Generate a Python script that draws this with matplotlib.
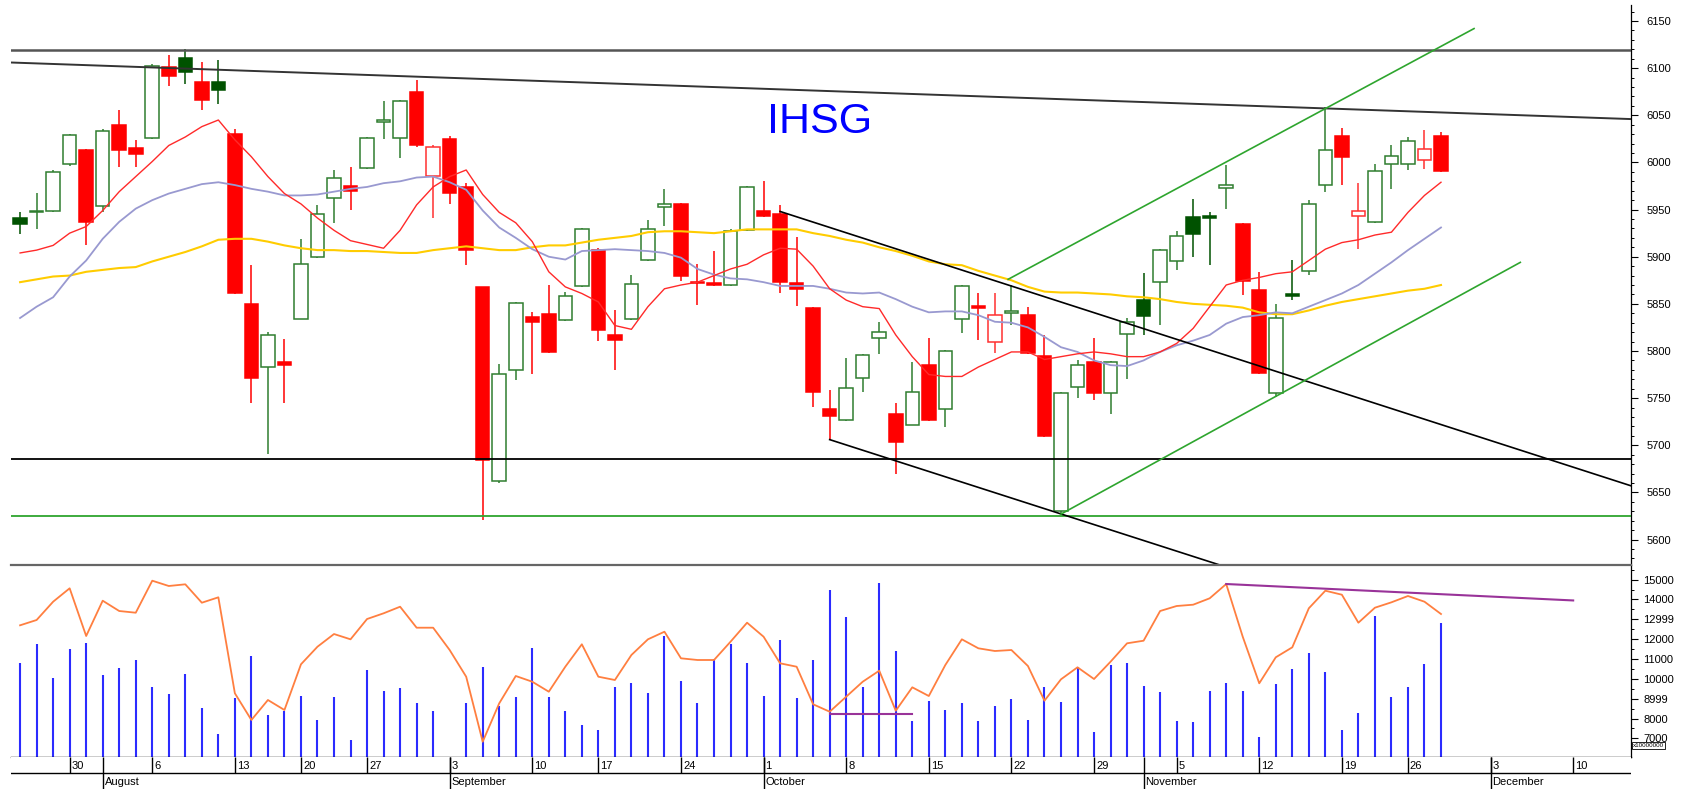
import numpy as np
import pandas as pd
import matplotlib
matplotlib.use('Agg')
import matplotlib.pyplot as plt
from matplotlib.ticker import MultipleLocator

plt.rcParams['font.family'] = ['Liberation Sans', 'DejaVu Sans']

# trading days (IDX holidays removed) plus empty slots to the right
holidays = ['2018-08-17', '2018-08-22', '2018-09-11', '2018-11-20']
days = pd.bdate_range('2018-07-25', '2018-11-28')
days = days[~days.isin(pd.to_datetime(holidays))]
blank_days = pd.bdate_range('2018-11-29', '2018-12-14')
all_days = days.append(blank_days)

prev_close = 5920
opens = [5941, 5947, 5948, 5998, 6013, 5954, 6040, 6015, 6026, 6101,
         6111, 6085, 6085, 6030, 5850, 5783, 5788, 5834, 5900, 5962,
         5975, 5994, 6043, 6026, 6075, 5986, 6025, 5974, 5868, 5662,
         5780, 5836, 5839, 5833, 5869, 5907, 5817, 5834, 5896, 5953,
         5956, 5873, 5872, 5870, 5928, 5949, 5945, 5872, 5846, 5738,
         5727, 5771, 5814, 5733, 5722, 5785, 5738, 5834, 5848, 5810,
         5840, 5838, 5795, 5630, 5762, 5788, 5755, 5818, 5854, 5873,
         5895, 5942, 5943, 5973, 5935, 5865, 5755, 5860, 5885, 5976,
         6028, 5943, 5937, 5998, 5998, 6003, 6028]
highs = [5947, 5968, 5992, 6030, 6014, 6035, 6056, 6024, 6104, 6114,
         6120, 6107, 6109, 6036, 5891, 5820, 5813, 5919, 5955, 5992,
         5995, 6027, 6065, 6066, 6087, 6019, 6028, 5978, 5868, 5786,
         5852, 5841, 5870, 5863, 5930, 5909, 5843, 5881, 5939, 5972,
         5957, 5892, 5906, 5929, 5975, 5980, 5955, 5921, 5847, 5759,
         5793, 5797, 5831, 5745, 5788, 5814, 5801, 5870, 5861, 5861,
         5870, 5847, 5817, 5756, 5790, 5814, 5789, 5835, 5883, 5908,
         5927, 5961, 5947, 5997, 5936, 5884, 5850, 5896, 5960, 6059,
         6037, 5978, 5998, 6019, 6027, 6034, 6032]
lows = [5924, 5929, 5947, 5996, 5912, 5947, 5995, 5995, 6025, 6081,
        6083, 6056, 6062, 5860, 5745, 5691, 5745, 5834, 5899, 5936,
        5950, 5993, 6025, 6005, 6016, 5941, 5956, 5891, 5621, 5660,
        5769, 5776, 5798, 5832, 5868, 5811, 5780, 5833, 5895, 5933,
        5874, 5849, 5869, 5869, 5927, 5942, 5861, 5848, 5741, 5706,
        5726, 5757, 5797, 5670, 5721, 5726, 5719, 5819, 5812, 5798,
        5828, 5797, 5709, 5627, 5750, 5748, 5733, 5770, 5817, 5828,
        5886, 5900, 5891, 5951, 5859, 5776, 5751, 5854, 5881, 5969,
        5976, 5908, 5936, 5972, 5992, 5993, 5990]
closes = [5935, 5949, 5990, 6029, 5937, 6033, 6013, 6009, 6102, 6092,
          6096, 6066, 6077, 5862, 5771, 5817, 5785, 5892, 5945, 5984,
          5970, 6026, 6045, 6065, 6019, 6016, 5968, 5907, 5684, 5776,
          5851, 5831, 5799, 5858, 5929, 5822, 5812, 5871, 5929, 5956,
          5880, 5872, 5870, 5927, 5974, 5943, 5873, 5866, 5757, 5731,
          5761, 5796, 5820, 5703, 5756, 5727, 5800, 5869, 5846, 5838,
          5842, 5798, 5710, 5755, 5785, 5755, 5788, 5831, 5837, 5907,
          5922, 5924, 5941, 5976, 5874, 5777, 5835, 5858, 5956, 6013,
          6006, 5948, 5991, 6007, 6023, 6014, 5991]

ma_fast = [5904, 5907, 5912, 5925, 5932, 5949, 5969, 5985, 6001, 6018,
           6027, 6038, 6045, 6024, 6006, 5985, 5967, 5956, 5941, 5928,
           5917, 5913, 5909, 5928, 5955, 5974, 5985, 5992, 5966, 5947,
           5936, 5916, 5884, 5868, 5861, 5852, 5827, 5823, 5847, 5866,
           5870, 5873, 5880, 5887, 5892, 5902, 5909, 5908, 5890, 5866,
           5854, 5847, 5845, 5817, 5794, 5775, 5773, 5773, 5783, 5791,
           5799, 5799, 5791, 5794, 5797, 5799, 5797, 5794, 5794, 5799,
           5808, 5824, 5847, 5870, 5875, 5878, 5882, 5884, 5896, 5908,
           5915, 5918, 5923, 5926, 5947, 5965, 5979]
ma_mid = [5835, 5847, 5857, 5879, 5896, 5919, 5937, 5951, 5960, 5967,
          5972, 5977, 5979, 5976, 5972, 5969, 5965, 5965, 5966, 5969,
          5972, 5974, 5978, 5980, 5984, 5985, 5979, 5971, 5949, 5931,
          5920, 5908, 5900, 5897, 5906, 5907, 5908, 5907, 5906, 5904,
          5899, 5887, 5881, 5877, 5876, 5873, 5869, 5869, 5869, 5866,
          5862, 5861, 5862, 5855, 5847, 5841, 5842, 5842, 5838, 5831,
          5830, 5825, 5815, 5804, 5799, 5790, 5785, 5784, 5790, 5799,
          5806, 5811, 5817, 5829, 5836, 5838, 5841, 5840, 5847, 5854,
          5861, 5870, 5882, 5894, 5907, 5919, 5931]
ma_slow = [5873, 5876, 5879, 5880, 5884, 5886, 5888, 5889, 5895, 5900,
           5905, 5911, 5918, 5919, 5919, 5916, 5912, 5909, 5907, 5907,
           5906, 5906, 5905, 5904, 5904, 5907, 5909, 5911, 5909, 5907,
           5907, 5910, 5912, 5912, 5915, 5918, 5920, 5922, 5926, 5927,
           5927, 5926, 5925, 5927, 5929, 5929, 5929, 5929, 5925, 5922,
           5918, 5915, 5910, 5906, 5901, 5895, 5892, 5891, 5885, 5880,
           5875, 5868, 5863, 5862, 5862, 5861, 5860, 5858, 5857, 5855,
           5852, 5850, 5849, 5848, 5846, 5841, 5839, 5839, 5843, 5848,
           5852, 5855, 5858, 5861, 5864, 5866, 5870]

volume = [10814, 11756, 10043, 11504, 11822, 10179, 10547, 10950, 9589, 9222,
          10229, 8516, 7237, 9035, 11136, 8194, 8395, 9151, 7927, 9086,
          6919, 10431, 9403, 9539, 8768, 8380, np.nan, 8768, 10612, 8632,
          9086, 11569, 9086, 8380, 7675, 7423, 9589, 9791, 9272, 12144,
          9907, 8768, 11000, 11756, 10798, 9151, 11957, 9020, 10950, 14461,
          13101, 9589, 14829, 11388, 7861, 8884, 8446, 8768, 7861, 8632,
          8970, 7927, 9589, 8834, 10582, 7307, 10683, 10798, 9655, 9338,
          7861, 7811, 9403, 9791, 9403, 7055, 9725, 10496, 11317, 10360,
          7423, 8264, 13166, 9086, 9589, 10748, 12798]
oscillator = [12698, 12965, 13887, 14562, 12159, 13937, 13418, 13332, 14945, 14678,
              14763, 13836, 14108, 9272, 7927, 8935, 8431, 10733, 11620, 12259,
              11992, 13015, 13302, 13635, 12577, 12577, 11453, 10108, 6834, 8768,
              10144, 9856, 9353, 10612, 11741, 10108, 9942, 11202, 11992, 12375,
              11035, 10950, 10950, 11872, 12829, 12123, 10783, 10612, 8718, 8345,
              9101, 9856, 10411, 8395, 9574, 9136, 10698, 11992, 11539, 11403,
              11453, 10647, 8899, 9977, 10582, 9992, 10864, 11791, 11922, 13418,
              13670, 13736, 14058, 14778, 12123, 9776, 11086, 11589, 13554, 14441,
              14239, 12829, 13584, 13856, 14174, 13887, 13267]

# drawn levels and trend lines (slot index, value)
top_level = 6119
support_black = 5685
support_green = 5625
resist_x, resist_y = [-0.55, 97.5], [6106, 6046]
down_hi_x, down_hi_y = [46, 97.5], [5948, 5657]
down_lo_x, down_lo_y = [49, 73.5], [5706, 5568]
up_lo_x, up_lo_y = [63, 90.8], [5627, 5894]
up_hi_x, up_hi_y = [59.8, 88], [5876, 6142]
osc_trend_x, osc_trend_y = [73, 94], [14778, 13950]
osc_flat_x, osc_flat_y = [49, 54], [8230, 8230]

vol_ticks = [7000, 8000, 8999, 10000, 11000, 12000, 12999, 14000, 15000]
price_ticks = np.arange(5600, 6151, 50)

# ---------------------------------------------------------------
W, H = 1683, 789
fig = plt.figure(figsize=(W / 100, H / 100), dpi=100)
left, width = 11 / W, (1631 - 11) / W
ax = fig.add_axes([left, 1 - 565 / H, width, 560 / H])
axv = fig.add_axes([left, 1 - 757 / H, width, 192 / H])
axd = fig.add_axes([left, 0, width, 32 / H])

xlim = (-0.55, 97.5)
for a in (ax, axv, axd):
    a.set_xlim(*xlim)
    a.tick_params(axis='x', bottom=False, labelbottom=False)

o, h, l, c = map(np.array, (opens, highs, lows, closes))
x = np.arange(len(c))
prev = np.r_[prev_close, c[:-1]]
up_day = c >= prev
filled = c < o
edge = np.where(up_day, np.where(filled, '#005200', '#2f7d2f'),
                np.where(filled, '#ff0000', '#ff3030'))
face = np.where(filled, edge, '#ffffff')

ax.vlines(x, l, h, colors=edge, lw=1.1, zorder=3)
ax.bar(x, np.abs(c - o), bottom=np.minimum(o, c), width=0.82,
       color=face, edgecolor=edge, linewidth=1.1, zorder=4)

ax.plot(x, ma_slow, color='#ffcc00', lw=1.5, zorder=5)
ax.plot(x, ma_mid, color='#9999d0', lw=1.3, zorder=5)
ax.plot(x, ma_fast, color='#ff2a2a', lw=1.0, zorder=5)

ax.axhline(top_level, color='#555555', lw=1.8, zorder=6)
ax.axhline(support_black, color='black', lw=1.3, zorder=6)
ax.axhline(support_green, color='#2ea52e', lw=1.3, zorder=6)
ax.plot(resist_x, resist_y, color='#333333', lw=1.4, zorder=6)
ax.plot(down_hi_x, down_hi_y, color='black', lw=1.2, zorder=6)
ax.plot(down_lo_x, down_lo_y, color='black', lw=1.2, zorder=6)
ax.plot(up_lo_x, up_lo_y, color='#2ea52e', lw=1.2, zorder=6)
ax.plot(up_hi_x, up_hi_y, color='#2ea52e', lw=1.2, zorder=6)

ax.text(48.4, 6031, 'IHSG', color='#0000ff', fontsize=31,
        ha='center', va='baseline')

ax.set_ylim(5573, 6167)
ax.yaxis.tick_right()
ax.set_yticks(price_ticks)
ax.yaxis.set_minor_locator(MultipleLocator(10))
ax.tick_params(axis='y', which='major', length=4.8, width=0.8, pad=6.5,
               labelsize=8)
ax.tick_params(axis='y', which='minor', length=2, width=0.7)
for s in ('top', 'left', 'bottom'):
    ax.spines[s].set_visible(False)
ax.spines['right'].set_linewidth(0.9)

# lower pane: volume bars and oscillator
vol_lim = (6063, 15736)
axv.vlines(x, vol_lim[0], volume, colors='#2b2bff', lw=1.5, zorder=2)
axv.plot(x, oscillator, color='#ff7f40', lw=1.3, zorder=3)
axv.plot(osc_trend_x, osc_trend_y, color='#993399', lw=1.5, zorder=4)
axv.plot(osc_flat_x, osc_flat_y, color='#993399', lw=1.5, zorder=4)
axv.set_ylim(*vol_lim)
axv.yaxis.tick_right()
axv.set_yticks(vol_ticks)
axv.set_yticklabels([str(v) for v in vol_ticks])
axv.yaxis.set_minor_locator(MultipleLocator(500))
axv.tick_params(axis='y', which='major', length=4.8, width=0.8, pad=4,
                labelsize=8)
axv.tick_params(axis='y', which='minor', length=2, width=0.7)
axv.spines['left'].set_visible(False)
axv.spines['top'].set_color('#666666')
axv.spines['top'].set_linewidth(1.6)
axv.spines['bottom'].set_linewidth(1.0)
axv.spines['right'].set_linewidth(0.9)
axv.text(1.001, 0.045, 'x10000000', transform=axv.transAxes, fontsize=4.5,
         ha='left', va='bottom',
         bbox=dict(boxstyle='square,pad=0.15', fc='white', ec='black', lw=0.6))

# date strip
axd.set_ylim(0, 2)
axd.set_yticks([])
for s in axd.spines.values():
    s.set_visible(False)
axd.axhline(1, color='black', lw=1.0)
for i, d in enumerate(all_days):
    if d.weekday() == 0:
        axd.vlines(i, 1, 2, colors='black', lw=1.0)
        axd.text(i + 0.12, 1.45, str(d.day), fontsize=8, ha='left', va='center')
    if i > 0 and d.month != all_days[i - 1].month:
        axd.vlines(i, 0, 2, colors='black', lw=1.0)
        axd.text(i + 0.12, 0.45, d.strftime('%B'), fontsize=8,
                 ha='left', va='center')

fig.savefig('out.png', dpi=100)
